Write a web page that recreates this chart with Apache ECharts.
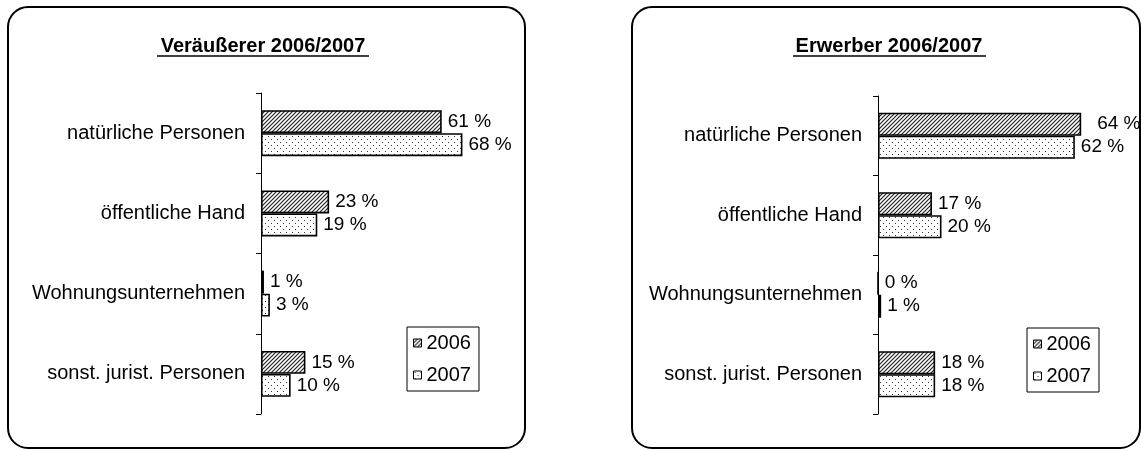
<!DOCTYPE html>
<html>
<head>
<meta charset="utf-8">
<script src="https://cdn.jsdelivr.net/npm/echarts@6/dist/echarts.min.js"></script>
<style>
  html, body { margin: 0; padding: 0; background: #fff; }
  #chart { width: 1141px; height: 450px; }
</style>
</head>
<body>
<div id="chart"></div>
<script>
// categories (same for both panels)
var categories = ['natürliche Personen', 'öffentliche Hand', 'Wohnungsunternehmen', 'sonst. jurist. Personen'];
var years = ['2006', '2007'];

// Veräußerer (left)
var sellerTitle = 'Veräußerer 2006/2007';
var seller2006 = [61, 23, 1, 15];
var seller2007 = [68, 19, 3, 10];

// Erwerber (right)
var buyerTitle = 'Erwerber 2006/2007';
var buyer2006 = [64, 17, 0, 18];
var buyer2007 = [62, 20, 1, 18];

var FONT = '"Liberation Sans", Arial, Helvetica, sans-serif';

function hatchPattern() {
    var c = document.createElement('canvas');
    c.width = 4; c.height = 4;
    var ctx = c.getContext('2d');
    ctx.fillStyle = '#fff';
    ctx.fillRect(0, 0, 4, 4);
    ctx.strokeStyle = '#222';
    ctx.lineWidth = 1.2;
    ctx.beginPath();
    ctx.moveTo(0, 4); ctx.lineTo(4, 0);
    ctx.moveTo(-1, 1); ctx.lineTo(1, -1);
    ctx.moveTo(3, 5); ctx.lineTo(5, 3);
    ctx.stroke();
    return c;
}

function dotPattern() {
    var c = document.createElement('canvas');
    c.width = 6; c.height = 6;
    var ctx = c.getContext('2d');
    ctx.fillStyle = '#fff';
    ctx.fillRect(0, 0, 6, 6);
    ctx.fillStyle = '#333';
    ctx.fillRect(1, 1, 1, 1);
    ctx.fillRect(4, 4, 1, 1);
    return c;
}

var fill2006 = { image: hatchPattern(), repeat: 'repeat' };
var fill2007 = { image: dotPattern(), repeat: 'repeat' };

var labelStyle = {
    show: true,
    position: 'right',
    distance: 6,
    formatter: '{c} %',
    color: '#000',
    fontSize: 19,
    fontFamily: FONT
};

function barSeries(name, values, fill, idx) {
    return {
        name: name,
        type: 'bar',
        xAxisIndex: idx,
        yAxisIndex: idx,
        barWidth: 23,
        barGap: '0%',
        data: values,
        itemStyle: { color: fill, borderColor: '#000', borderWidth: 1.6 },
        label: labelStyle
    };
}

function catAxis(idx) {
    return {
        type: 'category',
        gridIndex: idx,
        data: categories,
        inverse: true,
        axisLine: { show: true, lineStyle: { color: '#000', width: 1 } },
        axisTick: { show: true, alignWithLabel: false, inside: false, length: 5,
                    lineStyle: { color: '#000', width: 1 } },
        axisLabel: { color: '#000', fontSize: 20, fontFamily: FONT, margin: 16 }
    };
}

function valAxis(idx) {
    return { type: 'value', gridIndex: idx, min: 0, max: 80, show: false };
}

function legendAt(left, top) {
    return {
        data: years,
        orient: 'vertical',
        left: left,
        top: top,
        padding: [6, 8, 6, 6],
        itemGap: 12,
        itemWidth: 8,
        itemHeight: 8,
        borderColor: '#000',
        borderWidth: 1,
        borderRadius: 0,
        icon: 'rect',
        itemStyle: { borderColor: '#000', borderWidth: 1 },
        textStyle: { color: '#000', fontSize: 20, fontFamily: FONT }
    };
}

// right panel: keep the 64 % label clear of the 62 % one
var buyer2006Data = buyer2006.map(function (v, i) {
    return i === 0 ? { value: v, label: { distance: 16 } } : v;
});

var chart = echarts.init(document.getElementById('chart'));

chart.setOption({
    backgroundColor: '#fff',
    animation: false,
    grid: [
        { left: 261, top: 93, width: 237, height: 321 },
        { left: 878, top: 96, width: 254, height: 318 }
    ],
    xAxis: [valAxis(0), valAxis(1)],
    yAxis: [catAxis(0), catAxis(1)],
    legend: [legendAt(407, 327), legendAt(1027, 328)],
    series: [
        barSeries('2006', seller2006, fill2006, 0),
        barSeries('2007', seller2007, fill2007, 0),
        barSeries('2006', buyer2006Data, fill2006, 1),
        barSeries('2007', buyer2007, fill2007, 1)
    ],
    graphic: [
        { type: 'rect', shape: { x: 8, y: 7, width: 517, height: 441, r: 20 },
          style: { fill: 'none', stroke: '#000', lineWidth: 2 }, z: 0 },
        { type: 'rect', shape: { x: 632, y: 7, width: 508, height: 441, r: 20 },
          style: { fill: 'none', stroke: '#000', lineWidth: 2 }, z: 0 },
        { type: 'text', x: 263, y: 46,
          style: { text: sellerTitle, font: 'bold 20px ' + FONT, fill: '#000',
                   textAlign: 'center', textVerticalAlign: 'middle' } },
        { type: 'line', shape: { x1: 157, y1: 56, x2: 369, y2: 56 },
          style: { stroke: '#000', lineWidth: 1.5 } },
        { type: 'text', x: 889, y: 46,
          style: { text: buyerTitle, font: 'bold 20px ' + FONT, fill: '#000',
                   textAlign: 'center', textVerticalAlign: 'middle' } },
        { type: 'line', shape: { x1: 793, y1: 56, x2: 986, y2: 56 },
          style: { stroke: '#000', lineWidth: 1.5 } }
    ]
});
</script>
</body>
</html>
